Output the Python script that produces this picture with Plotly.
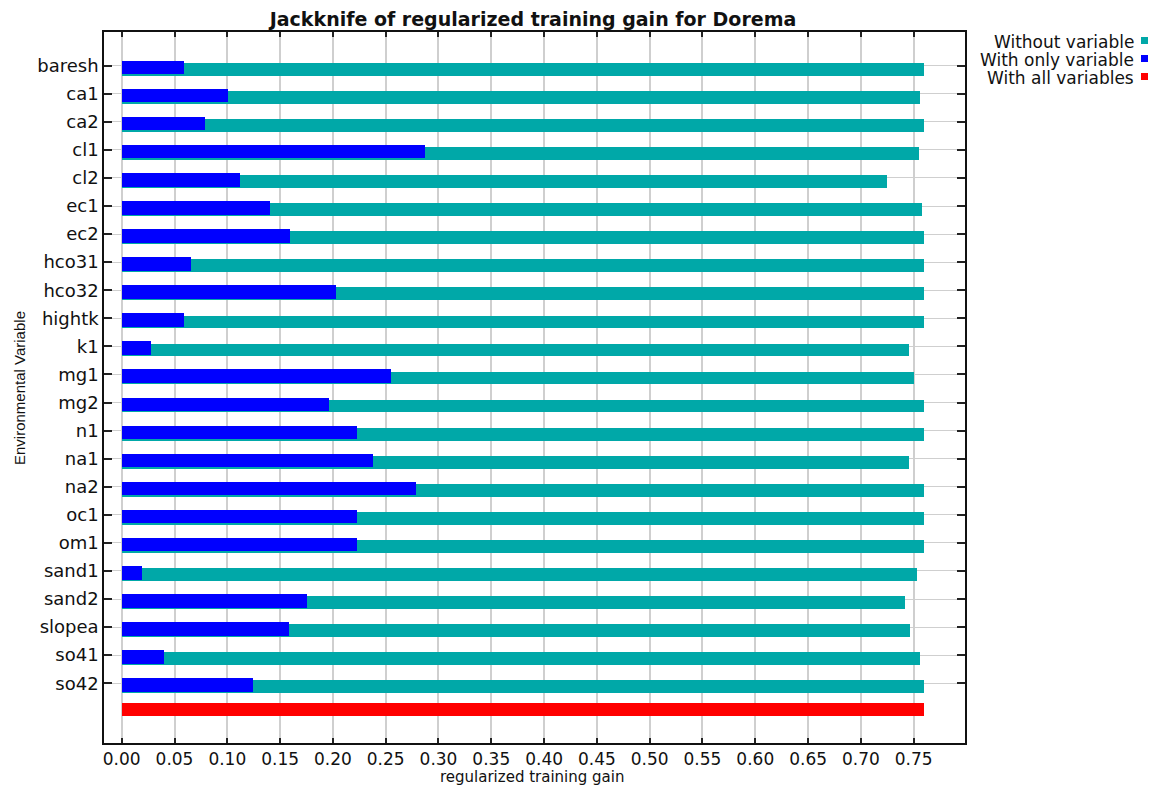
import plotly.graph_objects as go

variables = ["baresh", "ca1", "ca2", "cl1", "cl2", "ec1", "ec2", "hco31", "hco32",
             "hightk", "k1", "mg1", "mg2", "n1", "na1", "na2", "oc1", "om1",
             "sand1", "sand2", "slopea", "so41", "so42"]
without_variable = [0.7595, 0.7564, 0.7595, 0.7548, 0.7245, 0.7580, 0.7595, 0.7595, 0.7595,
                    0.7595, 0.7453, 0.7500, 0.7595, 0.7595, 0.7453, 0.7595, 0.7595, 0.7595,
                    0.7532, 0.7418, 0.7466, 0.7564, 0.7595]
with_only_variable = [0.0593, 0.1010, 0.0786, 0.2870, 0.1120, 0.1407, 0.1597, 0.0659, 0.2026,
                      0.0593, 0.0275, 0.2550, 0.1960, 0.2231, 0.2377, 0.2790, 0.2231, 0.2231,
                      0.0195, 0.1758, 0.1580, 0.0404, 0.1246]
with_all_variables = 0.7595

legend_names = ["Without variable", "With only variable", "With all variables"]
colors = ["#00A8A8", "#0000FF", "#FF0000"]

rows = list(range(len(variables)))
all_row = len(variables)

# page geometry (browser body has an 8px margin)
OFF = 8
PW, PH = 1156, 785
W, H = PW - 2 * OFF, PH - OFF
L, R, T, B = 104, 965, 32, 743   # plot area in page pixels

fig = go.Figure()
fig.add_trace(go.Bar(x=without_variable, y=rows, orientation="h", base=0,
                     width=0.452, offset=-0.098, marker=dict(color=colors[0], line=dict(width=0)),
                     name=legend_names[0], showlegend=False))
fig.add_trace(go.Bar(x=with_only_variable, y=rows, orientation="h", base=0,
                     width=0.484, offset=-0.178, marker=dict(color=colors[1], line=dict(width=0)),
                     name=legend_names[1], showlegend=False))
fig.add_trace(go.Bar(x=[with_all_variables], y=[all_row], orientation="h", base=0,
                     width=0.452, offset=-0.285, marker=dict(color=colors[2], line=dict(width=0)),
                     name=legend_names[2], showlegend=False))

def px_x(p):
    return (p - L) / (R - L)

def px_y(p):
    return (B - p) / (B - T)

annotations = [
    dict(text="regularized training gain", xref="paper", yref="paper",
         x=px_x(532), y=px_y(777), xanchor="center", yanchor="middle", showarrow=False,
         font=dict(family="DejaVu Sans", size=15, color="#111")),
    dict(text="Environmental Variable", xref="paper", yref="paper", textangle=-90,
         x=px_x(19), y=px_y(388), xanchor="center", yanchor="middle", showarrow=False,
         font=dict(family="Liberation Sans", size=15, color="#111")),
]
shapes = []
leg_y = [42, 60, 78]
for name, col, yy in zip(legend_names, colors, leg_y):
    annotations.append(dict(text=name, xref="paper", yref="paper", x=px_x(1136), y=px_y(yy),
                            xanchor="right", yanchor="middle", showarrow=False,
                            font=dict(family="DejaVu Sans", size=17, color="#111")))
    shapes.append(dict(type="rect", xref="paper", yref="paper",
                       x0=px_x(1141), x1=px_x(1148), y0=px_y(yy + 2), y1=px_y(yy - 5),
                       fillcolor=col, line=dict(width=0)))

fig.update_layout(
    width=W, height=H,
    margin=dict(l=L - OFF, r=W - (R - OFF), t=T - OFF, b=H - (B - OFF), pad=0),
    paper_bgcolor="white", plot_bgcolor="white",
    barmode="overlay", bargap=0,
    title=dict(text="<b>Jackknife of regularized training gain for Dorema</b>",
               x=px_x(533), xref="paper", y=1 - (19 - OFF) / H, yref="container",
               xanchor="center", yanchor="middle",
               font=dict(family="DejaVu Sans", size=19, color="#111")),
    annotations=annotations, shapes=shapes,
    showlegend=False,
)
fig.update_xaxes(range=[-0.01676, 0.7986], tickmode="linear", tick0=0, dtick=0.05,
                 tickformat=".2f", ticks="inside", ticklen=5, tickwidth=1.5, tickcolor="#222",
                 showline=True, linecolor="#111", linewidth=1.5, mirror="ticks",
                 showgrid=True, gridcolor="#cfcfcf", gridwidth=2, zeroline=False,
                 tickfont=dict(family="DejaVu Sans", size=17, color="#111"), automargin=False)
fig.update_yaxes(range=[24.13, -1.2], tickmode="array", tickvals=rows, ticktext=variables,
                 ticks="inside", ticklen=8, tickwidth=1.5, tickcolor="#222",
                 showline=True, linecolor="#111", linewidth=1.5, mirror="ticks",
                 showgrid=True, gridcolor="#cfcfcf", gridwidth=1.2, zeroline=False,
                 tickfont=dict(family="DejaVu Sans", size=18, color="#111"), automargin=False)

fig.write_html("out.html")
